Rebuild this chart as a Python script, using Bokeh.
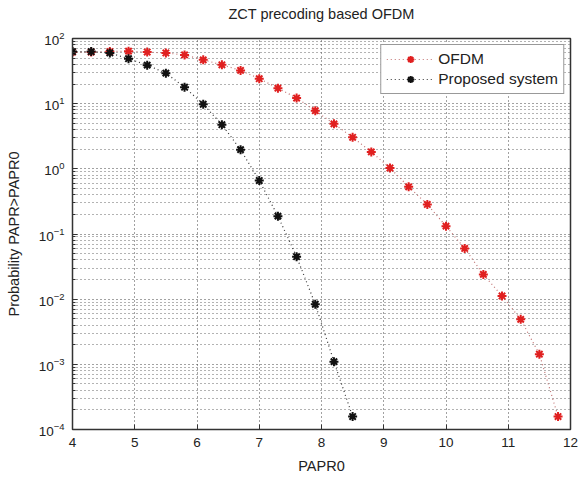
from bokeh.plotting import figure
from bokeh.models import FixedTicker, Legend, LegendItem
from bokeh.embed import file_html
from bokeh.resources import INLINE

# Data
ofdm_x = [4.0, 4.3, 4.6, 4.9, 5.2, 5.5, 5.8, 6.1, 6.4, 6.7, 7.0, 7.3, 7.6, 7.9,
          8.2, 8.5, 8.8, 9.1, 9.4, 9.7, 10.0, 10.3, 10.6, 10.9, 11.2, 11.5, 11.8]
ofdm_y = [62, 62, 63, 64, 62, 60, 56, 47, 39.5, 32.4, 24.2, 17.3, 12.2, 7.8,
          4.9, 3.05, 1.82, 1.03, 0.53, 0.284, 0.132, 0.060, 0.024, 0.0112,
          0.0049, 0.00143, 0.000158]

prop_x = [4.0, 4.3, 4.6, 4.9, 5.2, 5.5, 5.8, 6.1, 6.4, 6.7, 7.0, 7.3, 7.6, 7.9,
          8.2, 8.5]
prop_y = [63, 63, 60, 49, 39, 29.4, 17.9, 9.8, 4.76, 1.97, 0.66, 0.188, 0.0448,
          0.00836, 0.0011, 0.000158]

x_ticks = [4, 5, 6, 7, 8, 9, 10, 11, 12]
y_ticks = [1e-4, 1e-3, 1e-2, 1e-1, 1e0, 1e1, 1e2]
title_text = "ZCT precoding based OFDM"

FONT = "Liberation Sans"

p = figure(width=586, height=479, x_range=(4, 12), y_range=(1e-4, 1e2),
           y_axis_type="log", output_backend="svg", toolbar_location=None,
           min_border_left=72, min_border_right=16, min_border_top=0,
           min_border_bottom=50, background_fill_color="white",
           border_fill_color="white")

p.title.text = title_text
p.title.align = "center"
p.title.text_font = FONT
p.title.text_font_style = "normal"
p.title.text_font_size = "14.5px"
p.title.text_color = "#222222"
p.title.standoff = 7
p.title.padding = (0, 0, 0, 13)

p.outline_line_color = "#333333"
p.outline_line_width = 1.5

for ax in p.xaxis:
    ax.ticker = FixedTicker(ticks=x_ticks)
    ax.axis_label = "PAPR0"
    ax.major_label_standoff = 8
    ax.axis_label_standoff = 8
for ax in p.yaxis:
    ax.ticker = FixedTicker(ticks=y_ticks,
                            minor_ticks=[m * 10.0 ** e for e in range(-4, 2) for m in range(2, 10)])
    ax.axis_label = "Probability PAPR>PAPR0"
    ax.major_label_standoff = 8
    ax.axis_label_standoff = 14

for ax in p.axis:
    ax.axis_label_text_font = FONT
    ax.axis_label_text_font_style = "normal"
    ax.axis_label_text_font_size = "14.5px"
    ax.axis_label_text_color = "#222222"
    ax.major_label_text_font = FONT
    ax.major_label_text_font_size = "13.5px"
    ax.major_label_text_color = "#222222"
    ax.major_tick_in = 5
    ax.major_tick_out = 0
    ax.minor_tick_in = 3
    ax.minor_tick_out = 0
    ax.axis_line_color = "#333333"
    ax.major_tick_line_color = "#333333"
    ax.minor_tick_line_color = "#333333"

p.xaxis.minor_tick_line_color = None

# grids (Matlab-like dotted)
p.xgrid.grid_line_color = "#444444"
p.xgrid.grid_line_dash = "1 3"
p.xgrid.grid_line_width = 1
p.ygrid.grid_line_color = "#444444"
p.ygrid.grid_line_dash = "1 3"
p.ygrid.grid_line_width = 1
p.ygrid.minor_grid_line_color = "#666666"
p.ygrid.minor_grid_line_dash = "1 3"
p.ygrid.minor_grid_line_width = 1

l1 = p.line(ofdm_x, ofdm_y, line_color="#c07070", line_dash="1 3", line_width=1.2)
s1 = p.scatter(ofdm_x, ofdm_y, marker="asterisk", size=9, line_color="#e02020",
               line_width=2)
l2 = p.line(prop_x, prop_y, line_color="#333333", line_dash="1 3", line_width=1.2)
s2 = p.scatter(prop_x, prop_y, marker="asterisk", size=9, line_color="#111111",
               line_width=2)

legend = Legend(items=[LegendItem(label="OFDM", renderers=[l1, s1]),
                       LegendItem(label="Proposed system", renderers=[l2, s2])],
                location="top_right")
legend.label_text_font = FONT
legend.label_text_font_size = "15.5px"
legend.label_text_color = "#222222"
legend.label_height = 18
legend.glyph_height = 18
legend.border_line_color = "#333333"
legend.border_line_width = 1.5
legend.background_fill_alpha = 1.0
legend.spacing = 2
legend.padding = 5
legend.margin = 6
legend.glyph_width = 48
legend.label_standoff = 4
p.add_layout(legend)

open("out.html", "w").write(file_html(p, INLINE))
